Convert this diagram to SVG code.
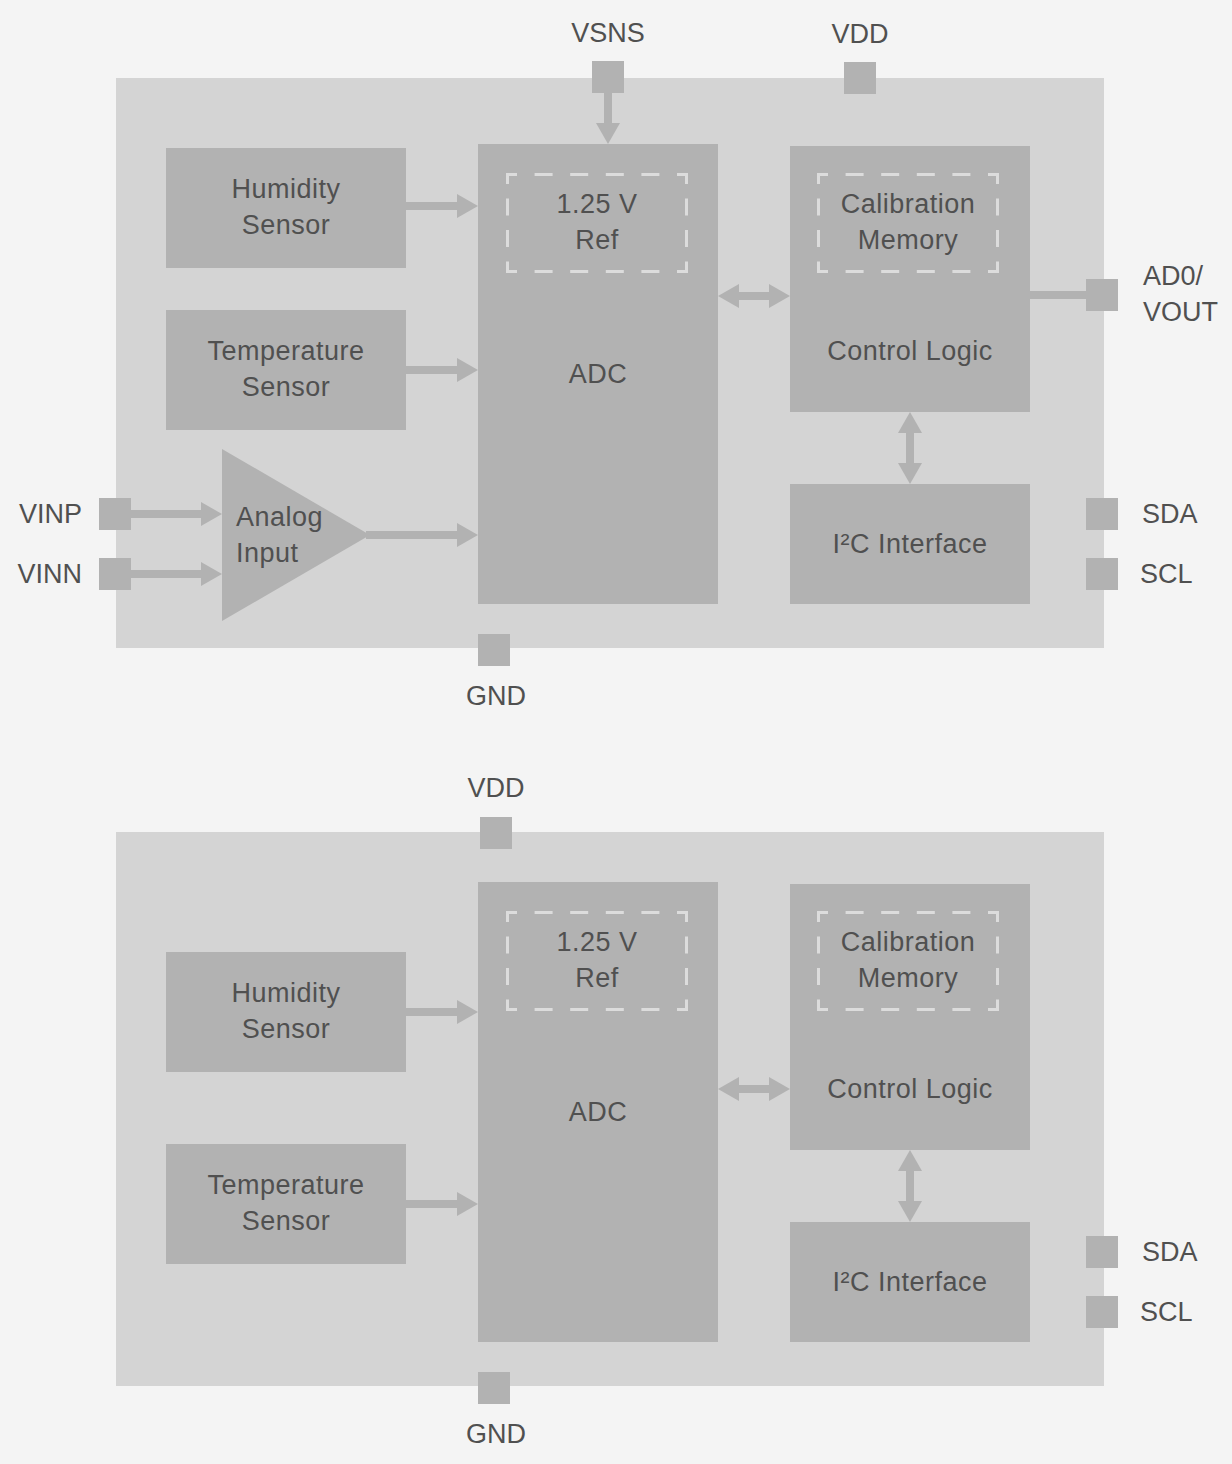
<svg xmlns="http://www.w3.org/2000/svg" xmlns:xlink="http://www.w3.org/1999/xlink" width="1232" height="1464" viewBox="0 0 1232 1464">
<style>
.bg{fill:#f4f4f4}
.chip{fill:#d4d4d4}
.blk{fill:#b2b2b2}
.pad{fill:#b2b2b2}
.t{font-family:"Liberation Sans",Arial,Helvetica,sans-serif;font-size:27px;fill:#505050}
.b{letter-spacing:0.5px}
.c{text-anchor:middle}
.e{text-anchor:end}
.w{stroke:#b2b2b2;stroke-width:8;fill:none}
.dh{stroke:#dcdcdc;stroke-width:3;fill:none;stroke-dasharray:18 17.6;stroke-dashoffset:7}
.dv{stroke:#dcdcdc;stroke-width:3;fill:none;stroke-dasharray:17 14.5;stroke-dashoffset:6}
</style>
<defs>
<marker id="ah" markerUnits="userSpaceOnUse" markerWidth="21" markerHeight="24" viewBox="0 0 21 24" refX="1" refY="12" orient="auto-start-reverse">
<path d="M0 0L21 12L0 24Z" fill="#b2b2b2"/>
</marker>
<g id="dbox">
<path class="dh" d="M0 1.5H182M0 98.5H182"/>
<path class="dv" d="M1.5 0V100M180.5 0V100"/>
</g>
</defs>
<rect class="bg" width="1232" height="1464"/>

<!-- ===== Top diagram ===== -->
<g id="chip1"><rect class="chip" x="116" y="78" width="988" height="570"/></g>

<g id="pin-vsns"><rect class="pad" x="592" y="61" width="32" height="32"/><text class="t c" x="608" y="42">VSNS</text></g>
<g id="pin-vdd1"><rect class="pad" x="844" y="62" width="32" height="32"/><text class="t c" x="860" y="43">VDD</text></g>
<g id="pin-vinp"><rect class="pad" x="99" y="498" width="32" height="32"/><text class="t e" x="82" y="523">VINP</text></g>
<g id="pin-vinn"><rect class="pad" x="99" y="558" width="32" height="32"/><text class="t e" x="82" y="583">VINN</text></g>
<g id="pin-gnd1"><rect class="pad" x="478" y="634" width="32" height="32"/><text class="t c" x="496" y="705">GND</text></g>
<g id="pin-ad0"><rect class="pad" x="1086" y="279" width="32" height="32"/><text class="t" x="1143" y="285">AD0/</text><text class="t" x="1143" y="321">VOUT</text></g>
<g id="pin-sda1"><rect class="pad" x="1086" y="498" width="32" height="32"/><text class="t" x="1142" y="523">SDA</text></g>
<g id="pin-scl1"><rect class="pad" x="1086" y="558" width="32" height="32"/><text class="t" x="1140" y="583">SCL</text></g>

<g id="humidity1"><rect class="blk" x="166" y="148" width="240" height="120"/><text class="t b c" x="286" y="198">Humidity</text><text class="t b c" x="286" y="234">Sensor</text></g>
<g id="temp1"><rect class="blk" x="166" y="310" width="240" height="120"/><text class="t b c" x="286" y="360">Temperature</text><text class="t b c" x="286" y="396">Sensor</text></g>
<g id="analog"><path class="blk" d="M222 449L370 535L222 621Z"/><text class="t b" x="236" y="526">Analog</text><text class="t b" x="236" y="562">Input</text></g>
<g id="adc1"><rect class="blk" x="478" y="144" width="240" height="460"/><use xlink:href="#dbox" x="506" y="173"/><text class="t b c" x="597" y="213">1.25 V</text><text class="t b c" x="597" y="249">Ref</text><text class="t b c" x="598" y="383">ADC</text></g>
<g id="ctrl1"><rect class="blk" x="790" y="146" width="240" height="266"/><use xlink:href="#dbox" x="817" y="173"/><text class="t b c" x="908" y="213">Calibration</text><text class="t b c" x="908" y="249">Memory</text><text class="t b c" x="910" y="360">Control Logic</text></g>
<g id="i2c1"><rect class="blk" x="790" y="484" width="240" height="120"/><text class="t b c" x="910" y="553">I²C Interface</text></g>

<g id="connectors1">
<line class="w" x1="608" y1="93" x2="608" y2="124" marker-end="url(#ah)"/>
<line class="w" x1="406" y1="206" x2="458" y2="206" marker-end="url(#ah)"/>
<line class="w" x1="406" y1="370" x2="458" y2="370" marker-end="url(#ah)"/>
<line class="w" x1="131" y1="514" x2="202" y2="514" marker-end="url(#ah)"/>
<line class="w" x1="131" y1="574" x2="202" y2="574" marker-end="url(#ah)"/>
<line class="w" x1="366" y1="535" x2="458" y2="535" marker-end="url(#ah)"/>
<line class="w" x1="738" y1="296" x2="770" y2="296" marker-start="url(#ah)" marker-end="url(#ah)"/>
<line class="w" x1="910" y1="432" x2="910" y2="464" marker-start="url(#ah)" marker-end="url(#ah)"/>
<line class="w" x1="1030" y1="295" x2="1088" y2="295"/>
</g>

<!-- ===== Bottom diagram ===== -->
<g id="chip2"><rect class="chip" x="116" y="832" width="988" height="554"/></g>

<g id="pin-vdd2"><rect class="pad" x="480" y="817" width="32" height="32"/><text class="t c" x="496" y="797">VDD</text></g>
<g id="pin-gnd2"><rect class="pad" x="478" y="1372" width="32" height="32"/><text class="t c" x="496" y="1443">GND</text></g>
<g id="pin-sda2"><rect class="pad" x="1086" y="1236" width="32" height="32"/><text class="t" x="1142" y="1261">SDA</text></g>
<g id="pin-scl2"><rect class="pad" x="1086" y="1296" width="32" height="32"/><text class="t" x="1140" y="1321">SCL</text></g>

<g id="humidity2"><rect class="blk" x="166" y="952" width="240" height="120"/><text class="t b c" x="286" y="1002">Humidity</text><text class="t b c" x="286" y="1038">Sensor</text></g>
<g id="temp2"><rect class="blk" x="166" y="1144" width="240" height="120"/><text class="t b c" x="286" y="1194">Temperature</text><text class="t b c" x="286" y="1230">Sensor</text></g>
<g id="adc2"><rect class="blk" x="478" y="882" width="240" height="460"/><use xlink:href="#dbox" x="506" y="911"/><text class="t b c" x="597" y="951">1.25 V</text><text class="t b c" x="597" y="987">Ref</text><text class="t b c" x="598" y="1121">ADC</text></g>
<g id="ctrl2"><rect class="blk" x="790" y="884" width="240" height="266"/><use xlink:href="#dbox" x="817" y="911"/><text class="t b c" x="908" y="951">Calibration</text><text class="t b c" x="908" y="987">Memory</text><text class="t b c" x="910" y="1098">Control Logic</text></g>
<g id="i2c2"><rect class="blk" x="790" y="1222" width="240" height="120"/><text class="t b c" x="910" y="1291">I²C Interface</text></g>

<g id="connectors2">
<line class="w" x1="406" y1="1012" x2="458" y2="1012" marker-end="url(#ah)"/>
<line class="w" x1="406" y1="1204" x2="458" y2="1204" marker-end="url(#ah)"/>
<line class="w" x1="738" y1="1089" x2="770" y2="1089" marker-start="url(#ah)" marker-end="url(#ah)"/>
<line class="w" x1="910" y1="1170" x2="910" y2="1202" marker-start="url(#ah)" marker-end="url(#ah)"/>
</g>
</svg>
